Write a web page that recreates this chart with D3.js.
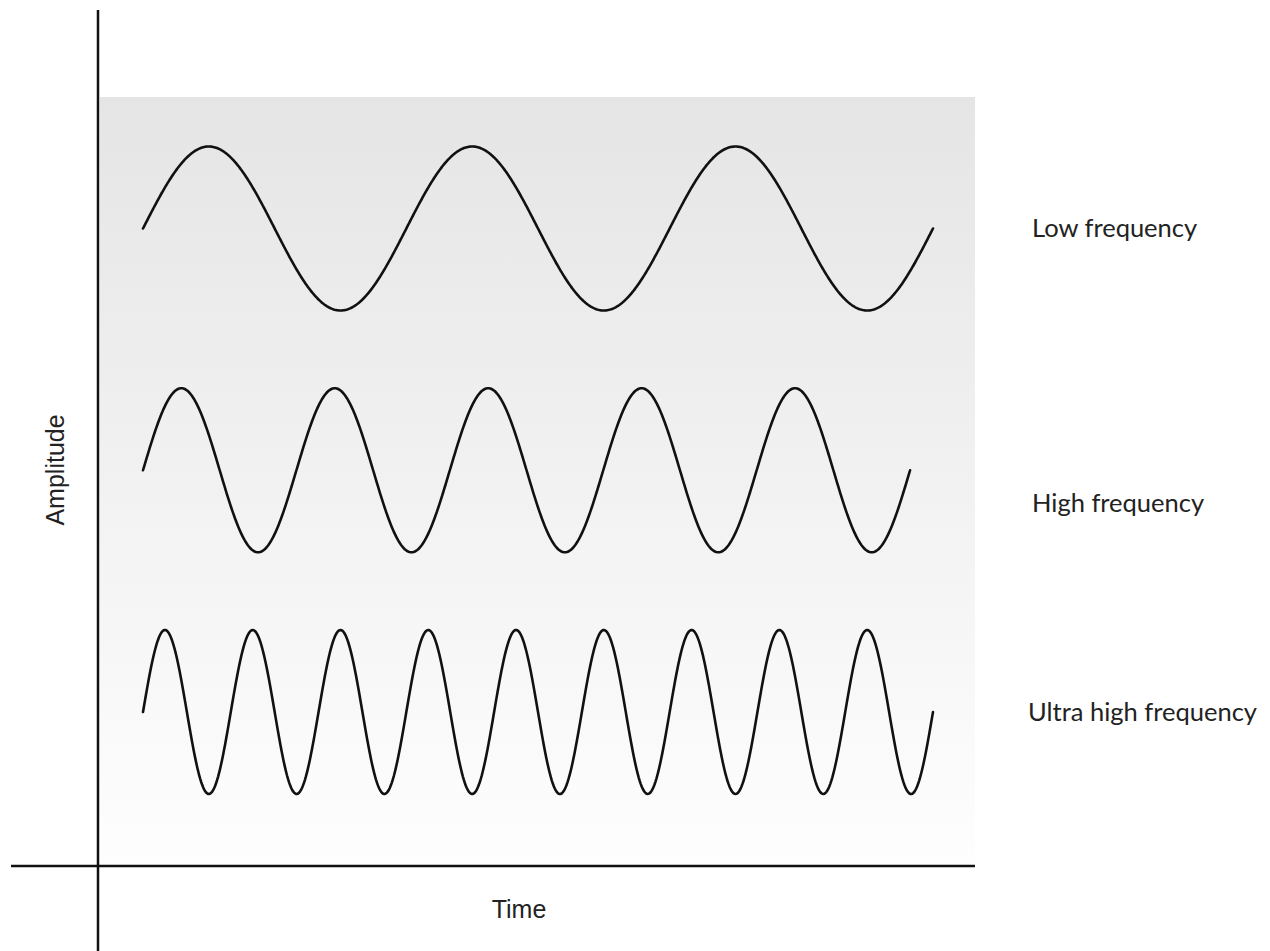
<!DOCTYPE html>
<html>
<head>
<meta charset="utf-8">
<script src="https://cdn.jsdelivr.net/npm/d3@7"></script>
<style>
  body { margin: 0; background: #fff; }
  .axis-title { font-family: "Liberation Sans", Arial, sans-serif; font-size: 25px; fill: #222; }
  .wave-label { font-family: Lato, "Noto Sans", sans-serif; font-size: 25.5px; fill: #222; }
</style>
</head>
<body>
<svg id="chart" width="1270" height="951"></svg>
<script>
// waves: whole cycles drawn over a share of the time span
var waveNames = ["Low frequency", "High frequency", "Ultra high frequency"];
var waveCycles = [3, 5, 9];
var waveSpan = [1, 0.971, 1];   // share of the time span that each wave covers
var labelOffset = [0, 0.4, 0];  // label shift, in amplitudes, under the wave midline
var labelX = [1032, 1032, 1028];

var svg = d3.select("#chart");
var width = +svg.attr("width"), height = +svg.attr("height");

var axisX = 98, axisY = 866;
var plot = {left: 100, right: 975, top: 97, bottom: 866};

// background gradient
var defs = svg.append("defs");
var grad = defs.append("linearGradient")
    .attr("id", "bg")
    .attr("x1", 0).attr("y1", 0).attr("x2", 0).attr("y2", 1);
grad.append("stop").attr("offset", "0%").attr("stop-color", "#e5e5e5");
grad.append("stop").attr("offset", "100%").attr("stop-color", "#fefefe");

svg.append("rect")
    .attr("x", plot.left)
    .attr("y", plot.top)
    .attr("width", plot.right - plot.left)
    .attr("height", plot.bottom - plot.top)
    .attr("fill", "url(#bg)");

// scales
var x = d3.scaleLinear().domain([0, 1]).range([143, 933]);
var band = d3.scalePoint().domain(waveNames).range([228.5, 712]);
var amp = 82;

var line = d3.line()
    .x(function(d){ return x(d[0]); })
    .y(function(d){ return d[1]; })
    .curve(d3.curveLinear);

var gWaves = svg.append("g").attr("class", "waves");

waveNames.forEach(function(name, i) {
    var mid = band(name);
    var y = d3.scaleLinear().domain([-1, 1]).range([mid + amp, mid - amp]);
    var pts = d3.range(0, 801).map(function(k) {
        var u = k / 800;
        return [u * waveSpan[i], y(Math.sin(2 * Math.PI * waveCycles[i] * u))];
    });
    gWaves.append("path")
        .attr("d", line(pts))
        .attr("fill", "none")
        .attr("stroke", "#111")
        .attr("stroke-width", 2.6)
        .attr("stroke-linecap", "round");

    svg.append("text")
        .attr("class", "wave-label")
        .attr("x", labelX[i])
        .attr("y", mid + labelOffset[i] * amp)
        .attr("dy", "0.35em")
        .text(name);
});

// axes
svg.append("line")
    .attr("x1", axisX).attr("x2", axisX)
    .attr("y1", 10).attr("y2", height)
    .attr("stroke", "#111").attr("stroke-width", 2.5);
svg.append("line")
    .attr("x1", 11).attr("x2", plot.right)
    .attr("y1", axisY).attr("y2", axisY)
    .attr("stroke", "#111").attr("stroke-width", 2.5);

svg.append("text")
    .attr("class", "axis-title")
    .attr("transform", "translate(55,470) rotate(-90)")
    .attr("text-anchor", "middle")
    .attr("dy", "0.35em")
    .text("Amplitude");

svg.append("text")
    .attr("class", "axis-title")
    .attr("x", 519)
    .attr("y", 909)
    .attr("text-anchor", "middle")
    .attr("dy", "0.35em")
    .text("Time");
</script>
</body>
</html>
